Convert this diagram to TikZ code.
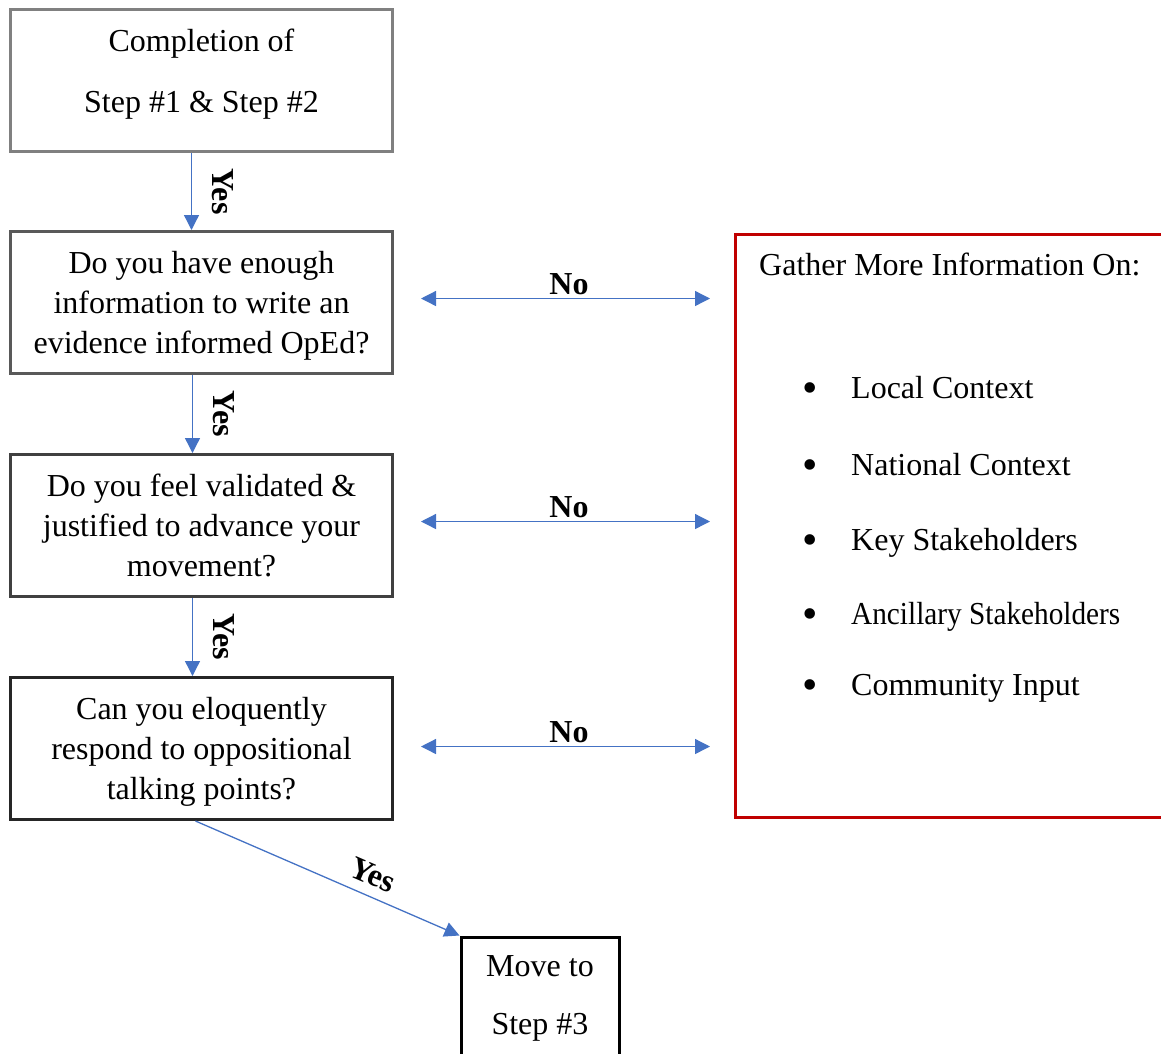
\documentclass[tikz,border=0pt]{standalone}
\usepackage{fontspec}
\usepackage{graphicx}
\setmainfont{Liberation Serif}
\usetikzlibrary{arrows.meta,calc}
\definecolor{flowblue}{HTML}{4472C4}
\definecolor{boxred}{HTML}{C00000}
\definecolor{edgeA}{HTML}{808080}
\definecolor{edgeB}{HTML}{595959}
\definecolor{edgeC}{HTML}{404040}
\definecolor{edgeD}{HTML}{262626}
\tikzset{
  txt/.style={font=\fontsize{32}{40}\selectfont, inner sep=0pt},
  qbox/.style={txt, draw, line width=3pt, minimum width=382pt, minimum height=142pt,
    align=center, text depth=0pt},
  flow/.style={draw=flowblue, line width=1.3pt, -{Triangle[length=15pt,width=15pt]}},
  twoway/.style={draw=flowblue, line width=1.3pt,
    {Triangle[length=15pt,width=15pt]}-{Triangle[length=15pt,width=15pt]},
    shorten <=27pt, shorten >=24pt},
  yeslbl/.style={txt, font=\fontsize{32}{40}\selectfont\bfseries},
  nolbl/.style={txt, font=\fontsize{32}{40}\selectfont\bfseries},
  dotlbl/.style={inner sep=0pt, font=\fontsize{44}{44}\selectfont}
}
\begin{document}
\begin{tikzpicture}[x=1pt, y=-1pt]
\useasboundingbox (0,0) rectangle (1161,1053);
\clip (0,0) rectangle (1161,1053);
% left column
\node[qbox, draw=edgeA, text depth=19pt] (start) at (201.5,80.5) {Completion of\\[21pt]Step \#1 \& Step \#2};
\node[qbox, draw=edgeB] (q1) at (201.5,302.5) {Do you have enough\\information to write an\\evidence informed OpEd?};
\node[qbox, draw=edgeC] (q2) at (201.5,525.5) {Do you feel validated \&\\justified to advance your\\movement?};
\node[qbox, draw=edgeD] (q3) at (201.5,748.5) {Can you eloquently\\respond to oppositional\\talking points?};
\node[txt, draw, line width=3pt, anchor=north west, minimum width=158pt, minimum height=122pt, align=center] (move) at (459.5,935.5) {Move to\\[18pt]Step \#3};
% red box
\node[draw=boxred, line width=3pt, anchor=north west, minimum width=500pt, minimum height=583pt] (info) at (734,232.5) {};
\node[txt, anchor=base west] (infohead) at (759,275) {Gather More Information On:};
\foreach \n/\y/\t in {1/398/Local Context, 2/475/National Context, 3/550/Key Stakeholders,
                      4/624/{\scalebox{0.915}[1]{Ancillary Stakeholders}}, 5/695/Community Input} {
  \node[dotlbl, anchor=base] (dot\n) at (810,\y+4) {\textbullet};
  \node[txt, anchor=base west] (item\n) at (851,\y) {\t};
}
% connectors
\draw[flow] ([xshift=-10pt]start.south) -- ([xshift=-10pt]start.south |- q1.north)
  node[yeslbl, midway, xshift=21pt, rotate=-90, anchor=base] {Yes};
\draw[flow] ([xshift=-9pt]q1.south) -- ([xshift=-9pt]q1.south |- q2.north)
  node[yeslbl, midway, xshift=21pt, rotate=-90, anchor=base] {Yes};
\draw[flow] ([xshift=-9pt]q2.south) -- ([xshift=-9pt]q2.south |- q3.north)
  node[yeslbl, midway, xshift=21pt, rotate=-90, anchor=base] {Yes};
\draw[flow] ([xshift=-6pt]q3.south) -- (move.north west)
  node[yeslbl, pos=0.64, sloped, above=10pt] {Yes};
\draw[twoway] ([yshift=4pt]q1.east) -- ([yshift=4pt]q1.east -| info.west)
  node[nolbl, midway, above=3pt, xshift=5pt] {No};
\draw[twoway] ([yshift=4pt]q2.east) -- ([yshift=4pt]q2.east -| info.west)
  node[nolbl, midway, above=3pt, xshift=5pt] {No};
\draw[twoway] ([yshift=2pt]q3.east) -- ([yshift=2pt]q3.east -| info.west)
  node[nolbl, midway, above=3pt, xshift=5pt] {No};
\end{tikzpicture}
\end{document}
